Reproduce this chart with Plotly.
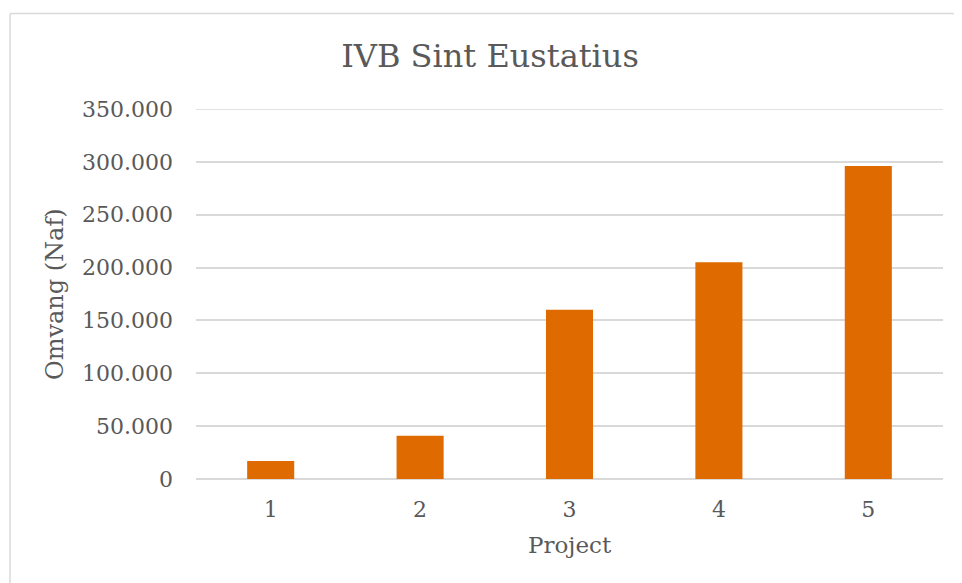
import plotly.graph_objects as go

categories = ["1", "2", "3", "4", "5"]
values = [17000, 41000, 160000, 205000, 296000]
y_tickvals = [0, 50000, 100000, 150000, 200000, 250000, 300000, 350000]
y_ticktext = ["0", "50.000", "100.000", "150.000", "200.000", "250.000", "300.000", "350.000"]
y_max = 350000

FONT = "DejaVu Serif"
TXT = "#595959"
OFF = 8  # page body margin offset
W, H = 962 - OFF, 583 - OFF
L, R, T, B = 196 - OFF, 19, 109 - OFF, 104
pw = W - L - R
ph = H - T - B

fig = go.Figure()
fig.add_trace(go.Bar(
    x=categories, y=values,
    marker=dict(color="#DE6A00", line=dict(width=0)),
    hoverinfo="x+y",
))

fig.update_layout(
    width=W, height=H,
    margin=dict(l=L, r=R, t=T, b=B, autoexpand=False),
    paper_bgcolor="white", plot_bgcolor="white",
    bargap=0.685,
    showlegend=False,
    font=dict(family=FONT, color=TXT),
    title=dict(text="IVB Sint Eustatius", font=dict(family=FONT, size=32, color=TXT),
               xref="container", yref="container", x=(490 - OFF) / W, y=1 - (56 - OFF) / H,
               xanchor="center", yanchor="middle"),
)
fig.update_xaxes(
    type="category", showgrid=False, showline=False, zeroline=False,
    ticks="", tickfont=dict(family=FONT, size=22, color=TXT),
    ticklabelstandoff=15,
)
fig.update_yaxes(
    range=[0, y_max], tickvals=y_tickvals, ticktext=y_ticktext,
    showgrid=True, gridcolor="#d9d9d9", gridwidth=1.5,
    zeroline=True, zerolinecolor="#d9d9d9", zerolinewidth=1.5,
    showline=False, ticks="", tickfont=dict(family=FONT, size=22, color=TXT),
    ticklabelstandoff=22,
)

# top gridline at the range edge (plotly omits it)
fig.add_shape(type="line", xref="paper", yref="y", x0=0, x1=1, y0=y_max, y1=y_max,
              line=dict(color="#d9d9d9", width=1.5), layer="below")

# axis titles
fig.add_annotation(text="Project", xref="paper", yref="paper",
                   x=(570 - OFF - L) / pw, y=-(545 - OFF - (T + ph)) / ph,
                   xanchor="center", yanchor="middle", showarrow=False,
                   font=dict(family=FONT, size=23, color=TXT))
fig.add_annotation(text="Omvang (Naf)", xref="paper", yref="paper",
                   x=(55 - OFF - L) / pw, y=0.5, textangle=-90,
                   xanchor="center", yanchor="middle", showarrow=False,
                   font=dict(family=FONT, size=24, color=TXT))

# chart-area border (top and left edges visible)
bx = 10 - OFF
by = 13.5 - OFF
fig.add_shape(type="line", xref="paper", yref="paper",
              x0=(bx - L) / pw, x1=(W + 5 - L) / pw, y0=1 + (T - by) / ph, y1=1 + (T - by) / ph,
              line=dict(color="#d9d9d9", width=1.5))
fig.add_shape(type="line", xref="paper", yref="paper",
              x0=(bx - L) / pw, x1=(bx - L) / pw, y0=1 + (T - by) / ph, y1=-(B + 5) / ph,
              line=dict(color="#d9d9d9", width=1.5))

fig.write_html("out.html")
